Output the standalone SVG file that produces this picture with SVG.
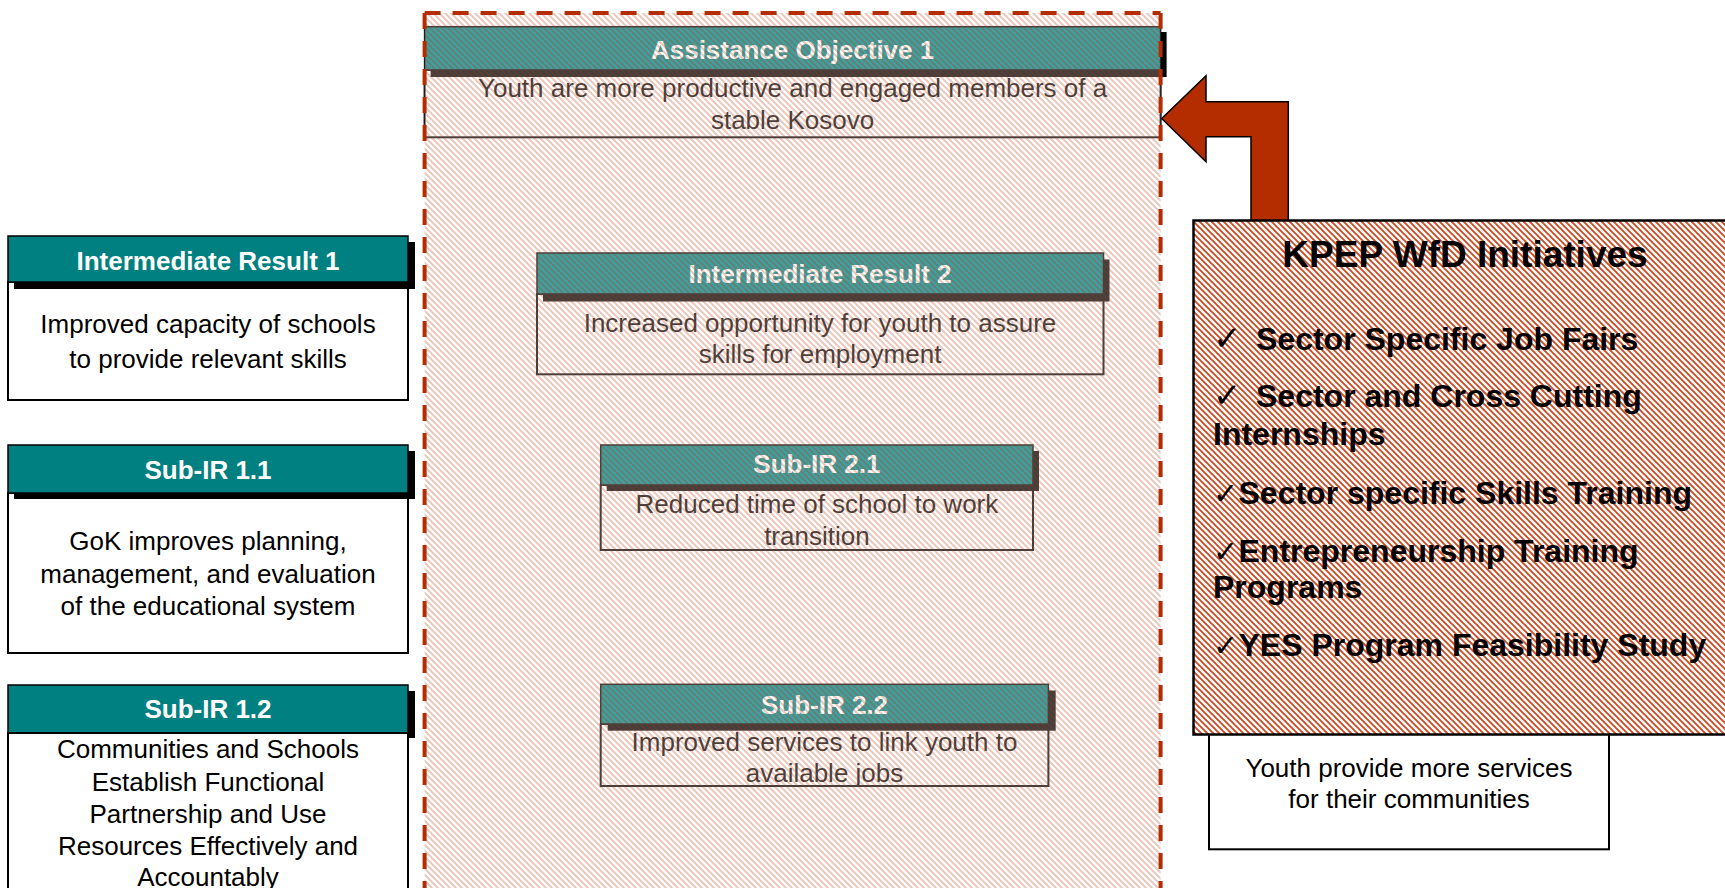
<svg xmlns="http://www.w3.org/2000/svg" width="1725" height="888" viewBox="0 0 1725 888">
<defs>
<style>
.hdr{fill:#008080;stroke:#000;stroke-width:1.5}
.shd{fill:#000}
.body{fill:#fff;stroke:#000;stroke-width:2}
.ht{font-family:"Liberation Sans",Arial,sans-serif;font-weight:bold;font-size:26px;fill:#fff;text-anchor:middle}
.bt{font-family:"Liberation Sans",Arial,sans-serif;font-size:26px;fill:#000;text-anchor:middle}
.kt{font-family:"Liberation Sans",Arial,sans-serif;font-weight:bold;font-size:32px;fill:#000}
.ck{font-family:"DejaVu Sans",sans-serif;font-weight:normal}
.dash{stroke:#b32d00;stroke-width:4;stroke-dasharray:16 12;fill:none}
</style>
<pattern id="hatchLight" width="6" height="6" patternUnits="userSpaceOnUse">
<path d="M-1,-1 L7,7 M-1,5 L1,7 M5,-1 L7,1" stroke="#b32d00" stroke-width="2"/>
</pattern>
<pattern id="hatchRed" width="6" height="6" patternUnits="userSpaceOnUse">
<rect width="6" height="6" fill="#fff"/>
<path d="M-1,-1 L7,7 M-1,5 L1,7 M5,-1 L7,1" stroke="#cc4d25" stroke-width="1.9"/>
</pattern>
</defs>
<rect width="1725" height="888" fill="#fff"/>

<!-- Left column -->
<g id="ir1">
<rect class="body" x="8" y="282" width="400" height="118"/>
<rect class="shd" x="14" y="242" width="401" height="47"/>
<rect class="hdr" x="8" y="236" width="400" height="46"/>
<text class="ht" x="208" y="270">Intermediate Result 1</text>
<text class="bt" x="208" y="333">Improved capacity of schools</text>
<text class="bt" x="208" y="368">to provide relevant skills</text>
</g>
<g id="subir11">
<rect class="body" x="8" y="493" width="400" height="160"/>
<rect class="shd" x="14" y="451" width="401" height="48"/>
<rect class="hdr" x="8" y="445" width="400" height="48"/>
<text class="ht" x="208" y="479">Sub-IR 1.1</text>
<text class="bt" x="208" y="550">GoK improves planning,</text>
<text class="bt" x="208" y="582.5">management, and evaluation</text>
<text class="bt" x="208" y="614.5">of the educational system</text>
</g>
<g id="subir12">
<rect class="shd" x="14" y="691" width="401" height="47"/>
<rect class="hdr" x="8" y="685" width="400" height="48"/>
<rect class="body" x="8" y="733" width="400" height="170"/>
<text class="ht" x="208" y="718">Sub-IR 1.2</text>
<text class="bt" x="208" y="758">Communities and Schools</text>
<text class="bt" x="208" y="790.5">Establish Functional</text>
<text class="bt" x="208" y="822.5">Partnership and Use</text>
<text class="bt" x="208" y="855">Resources Effectively and</text>
<text class="bt" x="208" y="886">Accountably</text>
</g>

<!-- Middle column -->
<g id="ao1">
<rect class="body" x="424.6" y="70" width="736" height="67.3"/>
<rect class="shd" x="430.6" y="32" width="736" height="45"/>
<rect class="hdr" x="424.6" y="26.7" width="736" height="43.3"/>
<text class="ht" x="792.6" y="59.3">Assistance Objective 1</text>
<text class="bt" x="792.6" y="97">Youth are more productive and engaged members of a</text>
<text class="bt" x="792.6" y="129">stable Kosovo</text>
</g>
<g id="ir2">
<rect class="body" x="537" y="294" width="566.5" height="80.3"/>
<rect class="shd" x="543" y="259.5" width="566.5" height="42"/>
<rect class="hdr" x="537" y="253" width="566.5" height="41"/>
<text class="ht" x="820" y="283.3">Intermediate Result 2</text>
<text class="bt" x="820" y="331.7">Increased opportunity for youth to assure</text>
<text class="bt" x="820" y="363.3">skills for employment</text>
</g>
<g id="subir21">
<rect class="body" x="600.7" y="485" width="432.3" height="65"/>
<rect class="shd" x="606.7" y="451" width="432.3" height="40"/>
<rect class="hdr" x="600.7" y="445" width="432.3" height="40"/>
<text class="ht" x="816.9" y="473.3">Sub-IR 2.1</text>
<text class="bt" x="816.9" y="513.3">Reduced time of school to work</text>
<text class="bt" x="816.9" y="545">transition</text>
</g>
<g id="subir22">
<rect class="body" x="600.7" y="724" width="447.7" height="62"/>
<rect class="shd" x="607.7" y="690.5" width="448" height="40.2"/>
<rect class="hdr" x="600.7" y="684.3" width="447.7" height="39.7"/>
<text class="ht" x="824.5" y="714">Sub-IR 2.2</text>
<text class="bt" x="824.5" y="750.7">Improved services to link youth to</text>
<text class="bt" x="824.5" y="781.7">available jobs</text>
</g>

<!-- Hatched dashed region overlay -->
<g id="ao-region">
<rect x="424.6" y="13" width="736" height="890" fill="#fff" opacity="0.25"/>
<rect x="424.6" y="13" width="736" height="890" fill="url(#hatchLight)" opacity="0.26"/>
<line class="dash" x1="424.6" y1="13" x2="1160.6" y2="13"/>
<line class="dash" x1="424.6" y1="13" x2="424.6" y2="900"/>
<line class="dash" x1="1160.6" y1="13" x2="1160.6" y2="900"/>
</g>

<g id="connectors">
<polygon points="1161.7,118.5 1206,75.7 1206,101.7 1288.3,101.7 1288.3,221 1251,221 1251,136.7 1206,136.7 1206,161.7" fill="#b32d00" stroke="#000" stroke-width="1.5" stroke-linejoin="miter"/>
</g>

<g id="youth">
<rect class="body" x="1209" y="700" width="400" height="149.3"/>
<text class="bt" x="1409" y="776.7">Youth provide more services</text>
<text class="bt" x="1409" y="808.3">for their communities</text>
</g>

<g id="kpep">
<rect x="1193.5" y="220.5" width="540" height="514" fill="url(#hatchRed)" stroke="#000" stroke-width="2.5"/>
<text class="kt" x="1465" y="266.7" text-anchor="middle" style="font-size:37px">KPEP WfD Initiatives</text>
<text class="kt" x="1213" y="350"><tspan class="ck" style="font-size:34px">✓</tspan><tspan x="1256">Sector Specific Job Fairs</tspan></text>
<text class="kt" x="1213" y="406.7"><tspan class="ck" style="font-size:34px">✓</tspan><tspan x="1256">Sector and Cross Cutting</tspan></text>
<text class="kt" x="1213" y="445">Internships</text>
<text class="kt" x="1213" y="504"><tspan class="ck" style="font-size:30px">✓</tspan><tspan x="1238.5">Sector specific Skills Training</tspan></text>
<text class="kt" x="1213" y="561.7"><tspan class="ck" style="font-size:30px">✓</tspan><tspan x="1238.5">Entrepreneurship Training</tspan></text>
<text class="kt" x="1213" y="598.3">Programs</text>
<text class="kt" x="1213" y="655.7"><tspan class="ck" style="font-size:30px">✓</tspan><tspan x="1238.5">YES Program Feasibility Study</tspan></text>
</g>
</svg>
